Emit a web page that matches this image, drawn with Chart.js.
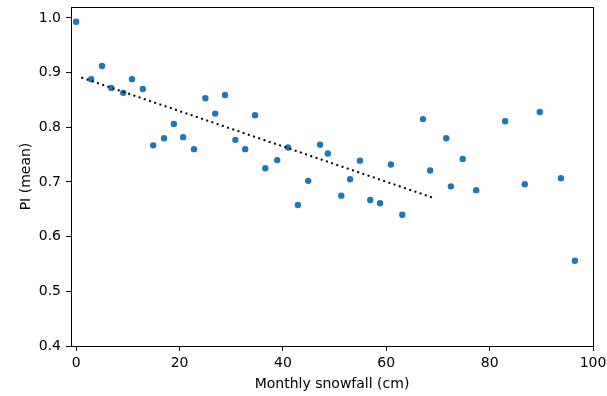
<!DOCTYPE html>
<html lang="en">
<head>
  <meta charset="UTF-8">
  <title>PI vs monthly snowfall</title>
  <script src="https://cdn.jsdelivr.net/npm/chart.js"></script>
  <style>
    body { margin: 0; background: white; }
    .wrap { width: 607px; height: 396px; }
  </style>
</head>
<body>
  <div class="wrap"><canvas id="chart" width="607" height="396"></canvas></div>

  <script>
    // monthly snowfall (cm) and mean PI
    const snowfall = [
      0, 2.9, 5.0, 6.8, 9.1, 10.8, 12.9, 14.9, 17.0, 18.9, 20.7, 22.8,
      25.0, 26.9, 28.8, 30.8, 32.7, 34.6, 36.6, 38.9, 41.0, 42.9, 44.9,
      47.2, 48.7, 51.3, 53.0, 54.9, 56.9, 58.8, 60.9, 63.1, 67.1, 68.5,
      71.6, 72.5, 74.8, 77.4, 83.0, 86.8, 89.7, 93.8, 96.5
    ];
    const piMean = [
      0.993, 0.888, 0.912, 0.872, 0.863, 0.888, 0.870, 0.767, 0.780, 0.806, 0.782, 0.760,
      0.853, 0.825, 0.859, 0.777, 0.760, 0.822, 0.725, 0.740, 0.763, 0.658, 0.702,
      0.768, 0.752, 0.675, 0.705, 0.739, 0.667, 0.661, 0.732, 0.640, 0.815, 0.721,
      0.780, 0.692, 0.742, 0.685, 0.811, 0.696, 0.828, 0.707, 0.556
    ];

    // dotted trend line endpoints
    const trendX = [1.0, 69.4];
    const trendY = [0.891, 0.670];

    const xTicks = [0, 20, 40, 60, 80, 100];
    const yTicks = [0.4, 0.5, 0.6, 0.7, 0.8, 0.9, 1.0];

    const font = { family: 'DejaVu Sans', size: 14 };

    // matplotlib-style box round the axes
    const frame = {
      id: 'frame',
      afterDraw(chart) {
        const { ctx, chartArea: a } = chart;
        ctx.save();
        ctx.strokeStyle = '#000';
        ctx.lineWidth = 1;
        ctx.strokeRect(a.left + 0.5, a.top + 0.5, a.right - a.left, a.bottom - a.top);
        ctx.restore();
      }
    };

    new Chart(document.getElementById('chart'), {
      type: 'scatter',
      data: {
        datasets: [
          {
            data: snowfall.map((x, i) => ({ x: x, y: piMean[i] })),
            backgroundColor: '#1f77b4',
            borderColor: '#1f77b4',
            pointRadius: 3.2,
            pointHoverRadius: 3.2,
            borderWidth: 0,
            order: 2
          },
          {
            type: 'line',
            data: trendX.map((x, i) => ({ x: x, y: trendY[i] })),
            borderColor: '#000',
            borderWidth: 2,
            borderDash: [2, 3.5],
            pointRadius: 0,
            fill: false,
            order: 1
          }
        ]
      },
      options: {
        responsive: false,
        animation: false,
        layout: { padding: { left: 14, top: 7, right: 14, bottom: 0 } },
        plugins: { legend: { display: false }, tooltip: { enabled: false } },
        scales: {
          x: {
            type: 'linear',
            min: -1,
            max: 100,
            afterBuildTicks: s => { s.ticks = xTicks.map(v => ({ value: v })); },
            afterFit: s => { s.height = 50; s.paddingLeft = 0; s.paddingRight = 0; },
            grid: { drawOnChartArea: false, tickLength: 5, color: '#000' },
            border: { color: '#000' },
            ticks: { color: '#000', font: font, padding: 4, maxRotation: 0 },
            title: { display: true, text: 'Monthly snowfall (cm)', color: '#000', font: font, padding: { top: 0, bottom: 3 } }
          },
          y: {
            min: 0.4,
            max: 1.02,
            afterBuildTicks: s => { s.ticks = yTicks.map(v => ({ value: v })); },
            afterFit: s => { s.width = 57; s.paddingTop = 0; s.paddingBottom = 0; },
            grid: { drawOnChartArea: false, tickLength: 5, color: '#000' },
            border: { color: '#000' },
            ticks: { color: '#000', font: font, padding: 5, callback: v => v.toFixed(1) },
            title: { display: true, text: 'PI (mean)', color: '#000', font: font, padding: { bottom: 2 } }
          }
        }
      },
      plugins: [frame]
    });
  </script>
</body>
</html>
